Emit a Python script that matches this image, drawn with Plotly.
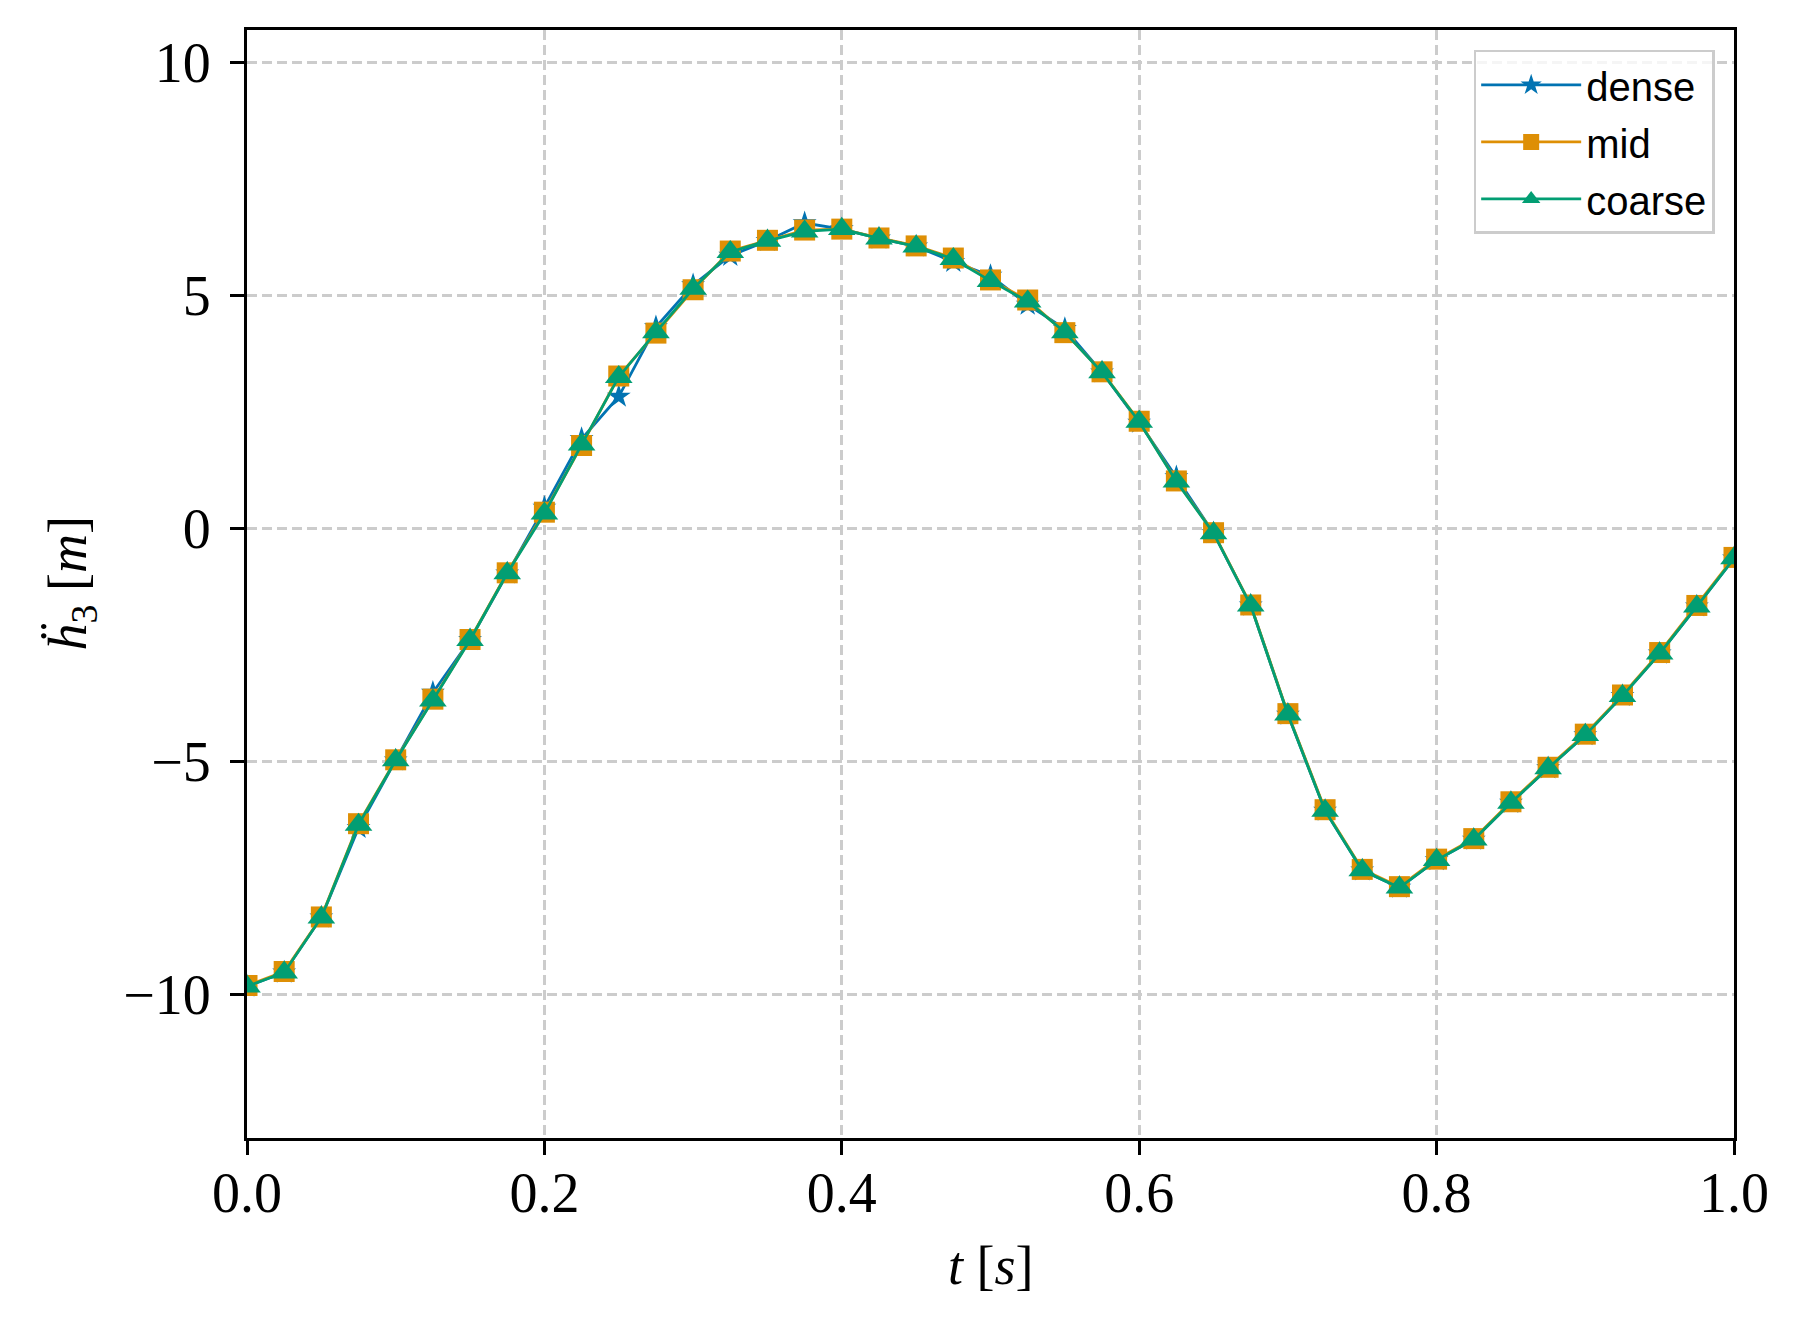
import plotly.graph_objects as go

t = [round(i * 0.025, 3) for i in range(41)]

coarse = [-9.82, -9.52, -8.34, -6.35, -4.97, -3.69, -2.39, -0.96, 0.32, 1.80,
          3.25, 4.21, 5.14, 5.93, 6.17, 6.37, 6.42, 6.22, 6.05, 5.78,
          5.31, 4.87, 4.21, 3.35, 2.29, 1.01, -0.10, -1.65, -3.99, -6.05,
          -7.33, -7.70, -7.11, -6.67, -5.88, -5.14, -4.43, -3.59, -2.68, -1.67, -0.64]

mid = [-9.80, -9.50, -8.33, -6.33, -4.96, -3.66, -2.38, -0.95, 0.35, 1.78,
       3.27, 4.19, 5.12, 5.95, 6.18, 6.40, 6.42, 6.23, 6.06, 5.80,
       5.33, 4.90, 4.20, 3.36, 2.30, 1.02, -0.09, -1.64, -3.97, -6.03,
       -7.31, -7.68, -7.09, -6.65, -5.86, -5.12, -4.41, -3.57, -2.66, -1.65, -0.62]

dense = [-9.82, -9.52, -8.34, -6.42, -4.97, -3.52, -2.39, -0.96, 0.45, 1.92,
         2.83, 4.32, 5.22, 5.85, 6.17, 6.55, 6.42, 6.22, 6.05, 5.72,
         5.42, 4.80, 4.28, 3.35, 2.27, 1.10, -0.10, -1.65, -3.99, -6.05,
         -7.33, -7.70, -7.11, -6.67, -5.88, -5.14, -4.43, -3.59, -2.68, -1.67, -0.64]

x_ticks = [0.0, 0.2, 0.4, 0.6, 0.8, 1.0]
x_ticklabels = ["0.0", "0.2", "0.4", "0.6", "0.8", "1.0"]
y_ticks = [-10, -5, 0, 5, 10]
y_ticklabels = ["\u221210", "\u22125", "0", "5", "10"]

BLUE = "#0173B2"
ORANGE = "#DE8F05"
GREEN = "#029E73"

fig = go.Figure()
fig.add_trace(go.Scatter(x=t, y=dense, name="dense", mode="lines+markers", legendgroup="a",
                         line=dict(color=BLUE, width=2.8),
                         marker=dict(symbol="star", size=18, color=BLUE)))
fig.add_trace(go.Scatter(x=t, y=mid, name="mid", mode="lines+markers", legendgroup="b",
                         line=dict(color=ORANGE, width=2.8),
                         marker=dict(symbol="square", size=21, color=ORANGE)))
fig.add_trace(go.Scatter(x=t, y=coarse, name="coarse", mode="lines+markers", legendgroup="c",
                         line=dict(color=GREEN, width=2.8),
                         marker=dict(symbol="triangle-up", size=24, color=GREEN)))

serif = "Liberation Serif, DejaVu Serif, serif"
axis_common = dict(
    showline=True, linecolor="black", linewidth=3, mirror=True,
    ticks="outside", ticklen=14, tickwidth=2.7, tickcolor="black",
    showgrid=True, gridcolor="#cccccc", gridwidth=2.5, griddash="10px,5px",
    zeroline=False, automargin=False,
    tickfont=dict(family=serif, size=56, color="black"),
)

fig.update_xaxes(range=[0, 1], tickvals=x_ticks, ticktext=x_ticklabels,
                 ticklabelstandoff=-10, **axis_common)
fig.update_yaxes(range=[-13.07, 10.69], tickvals=y_ticks, ticktext=y_ticklabels,
                 ticklabelstandoff=8, **axis_common)

fig.add_annotation(text="<i>t</i> [<i>s</i>]", xref="paper", yref="paper",
                   x=0.5, y=0, yshift=-160, showarrow=False,
                   font=dict(family=serif, size=54, color="black"))
fig.add_annotation(text="<i>\u1e27</i><sub>3</sub> [<i>m</i>]", xref="paper", yref="paper",
                   x=0, y=0.5, xshift=-212, showarrow=False, textangle=-90,
                   font=dict(family=serif, size=54, color="black"))

fig.update_layout(
    width=1800, height=1326,
    margin=dict(l=239, r=74, t=22, b=196),
    plot_bgcolor="white", paper_bgcolor="white",
    legend=dict(x=0.987, y=0.982, xanchor="right", yanchor="top",
                bgcolor="rgba(255,255,255,0.8)", bordercolor="#cccccc", borderwidth=2.5,
                font=dict(family="Liberation Sans, Arial, sans-serif", size=40, color="black"),
                itemwidth=100, tracegroupgap=2),
    showlegend=True,
)

fig.write_html("out.html")
